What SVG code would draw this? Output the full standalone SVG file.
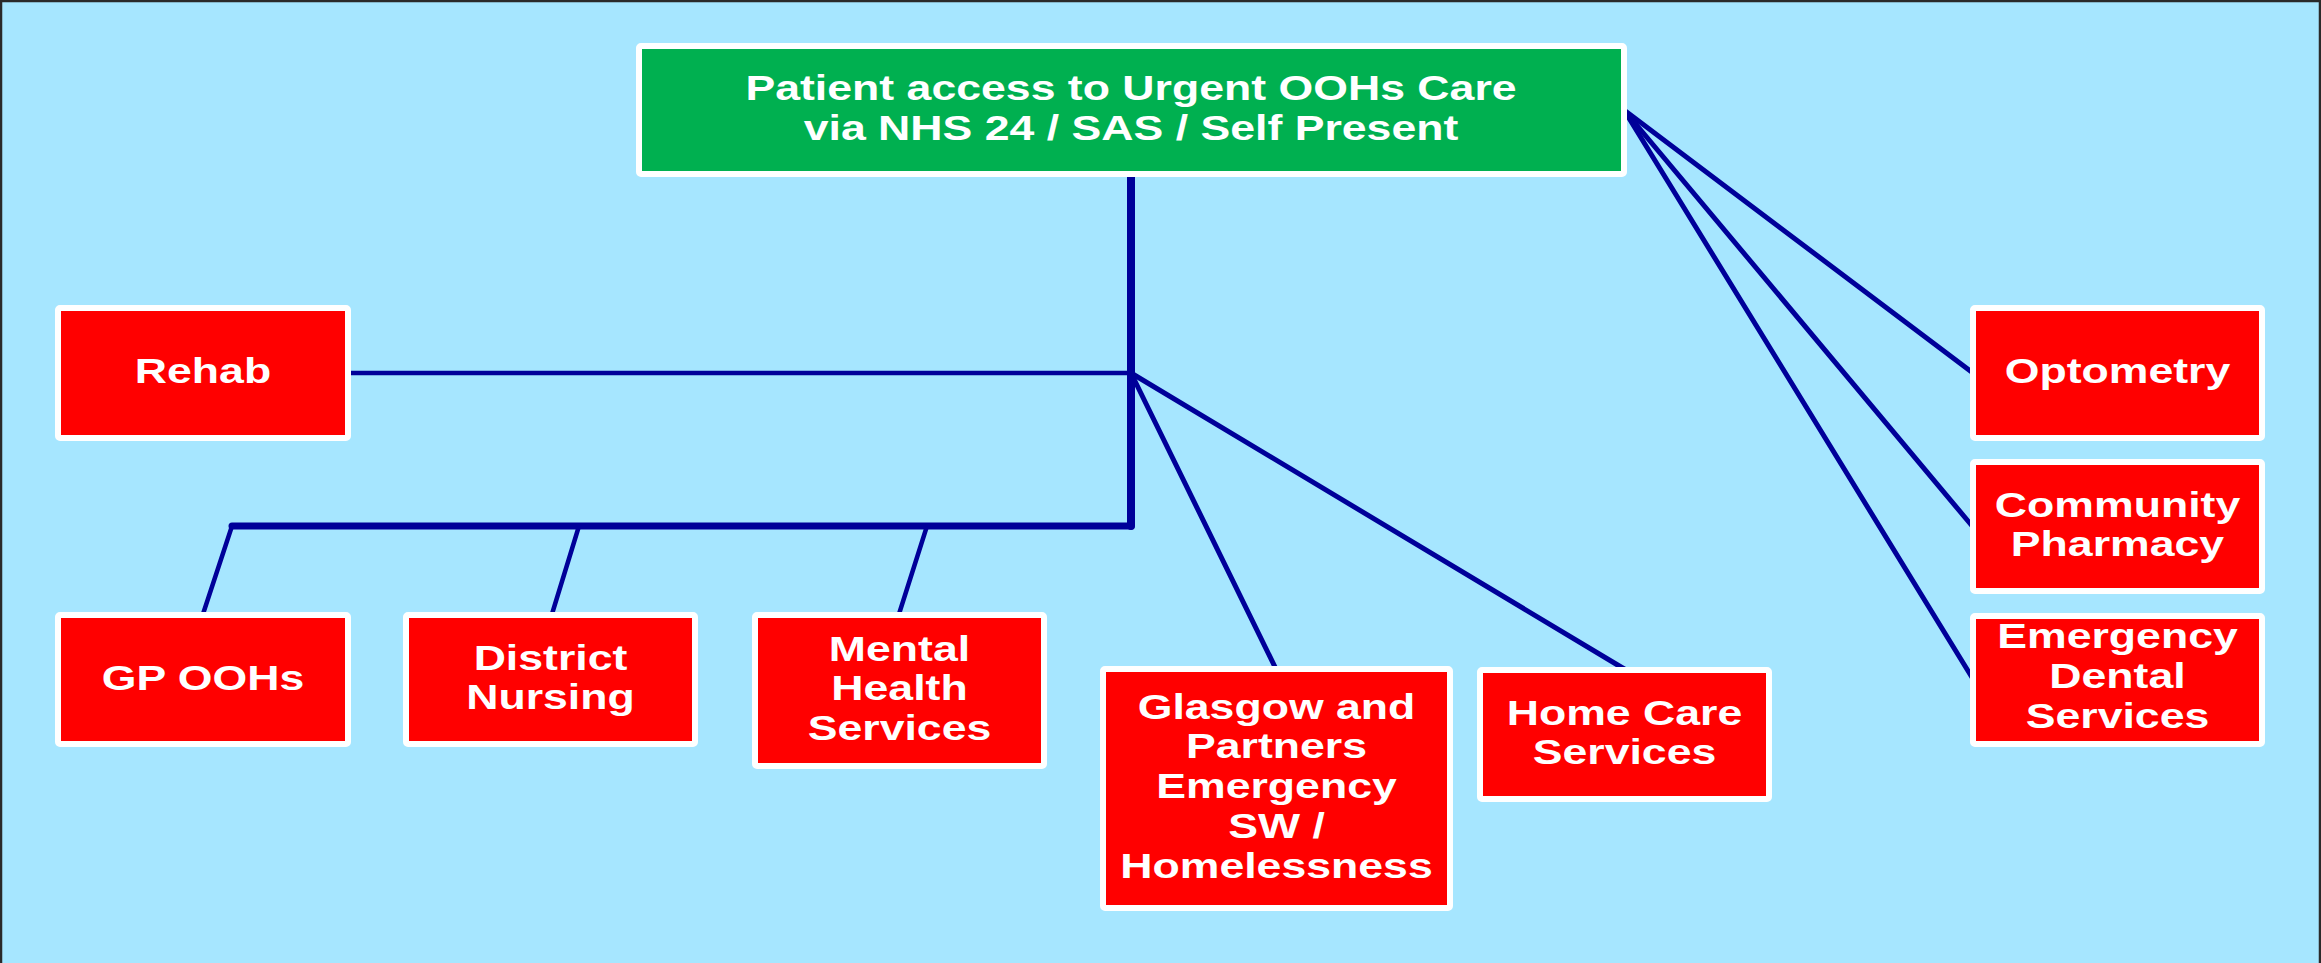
<svg xmlns="http://www.w3.org/2000/svg" width="2321" height="963" viewBox="0 0 2321 963">
<style>
.bg{fill:#A6E6FF}
.box{fill:#FF0000;stroke:#FFFFFF;stroke-width:6;stroke-linejoin:round}
.green{fill:#00B050;stroke:#FFFFFF;stroke-width:6;stroke-linejoin:round}
.lbl{font-family:"Liberation Sans",Arial,sans-serif;font-weight:bold;font-size:35px;fill:#FFFFFF;text-anchor:middle}
.ln{stroke:#000099;stroke-linecap:round;fill:none}
</style>
<rect class="bg" x="0" y="0" width="2321" height="963"/>
<path d="M1,963 V1 H2320 V963" fill="none" stroke="#2a2a2a" stroke-width="2.5"/>
<g id="connectors">
<line class="ln" x1="1131" y1="173" x2="1131" y2="526" stroke-width="8"/>
<line class="ln" x1="232" y1="526" x2="1131" y2="526" stroke-width="7"/>
<line class="ln" x1="351" y1="373" x2="1131" y2="373" stroke-width="4.5"/>
<line class="ln" x1="232" y1="526" x2="203" y2="614" stroke-width="4.5"/>
<line class="ln" x1="579" y1="526" x2="552" y2="614" stroke-width="4.5"/>
<line class="ln" x1="927" y1="526" x2="899" y2="614" stroke-width="4.5"/>
<line class="ln" x1="1131" y1="373" x2="1276" y2="669" stroke-width="5"/>
<line class="ln" x1="1131" y1="373" x2="1626" y2="670" stroke-width="5"/>
<line class="ln" x1="1624" y1="110" x2="1973" y2="373" stroke-width="5"/>
<line class="ln" x1="1624" y1="110" x2="1973" y2="527" stroke-width="5"/>
<line class="ln" x1="1624" y1="110" x2="1973" y2="679" stroke-width="5"/>
</g>
<g id="patient-access">
<rect class="green" x="639" y="46" width="985" height="128" rx="2"/>
<text class="lbl" transform="translate(1131,100) scale(1.275,1)"><tspan x="0" y="0">Patient access to Urgent OOHs Care</tspan><tspan x="0" dy="40">via NHS 24 / SAS / Self Present</tspan></text>
</g>
<g id="rehab">
<rect class="box" x="58" y="308" width="290" height="130" rx="2"/>
<text class="lbl" transform="translate(203,383) scale(1.275,1)"><tspan x="0" y="0">Rehab</tspan></text>
</g>
<g id="gp-oohs">
<rect class="box" x="58" y="615" width="290" height="129" rx="2"/>
<text class="lbl" transform="translate(203,689.5) scale(1.275,1)"><tspan x="0" y="0">GP OOHs</tspan></text>
</g>
<g id="district-nursing">
<rect class="box" x="406" y="615" width="289" height="129" rx="2"/>
<text class="lbl" transform="translate(550.5,669.5) scale(1.275,1)"><tspan x="0" y="0">District</tspan><tspan x="0" dy="40">Nursing</tspan></text>
</g>
<g id="mental-health">
<rect class="box" x="755" y="615" width="289" height="151" rx="2"/>
<text class="lbl" transform="translate(899.5,660.5) scale(1.275,1)"><tspan x="0" y="0">Mental</tspan><tspan x="0" dy="40">Health</tspan><tspan x="0" dy="40">Services</tspan></text>
</g>
<g id="glasgow-partners">
<rect class="box" x="1103" y="669" width="347" height="239" rx="2"/>
<text class="lbl" transform="translate(1276.5,718.5) scale(1.275,1)"><tspan x="0" y="0">Glasgow and</tspan><tspan x="0" dy="40">Partners</tspan><tspan x="0" dy="40">Emergency</tspan><tspan x="0" dy="40">SW /</tspan><tspan x="0" dy="40">Homelessness</tspan></text>
</g>
<g id="home-care">
<rect class="box" x="1480" y="670" width="289" height="129" rx="2"/>
<text class="lbl" transform="translate(1624.5,724.5) scale(1.275,1)"><tspan x="0" y="0">Home Care</tspan><tspan x="0" dy="40">Services</tspan></text>
</g>
<g id="optometry">
<rect class="box" x="1973" y="308" width="289" height="130" rx="2"/>
<text class="lbl" transform="translate(2117.5,383) scale(1.275,1)"><tspan x="0" y="0">Optometry</tspan></text>
</g>
<g id="community-pharmacy">
<rect class="box" x="1973" y="462" width="289" height="129" rx="2"/>
<text class="lbl" transform="translate(2117.5,516.5) scale(1.275,1)"><tspan x="0" y="0">Community</tspan><tspan x="0" dy="40">Pharmacy</tspan></text>
</g>
<g id="emergency-dental">
<rect class="box" x="1973" y="616" width="289" height="128" rx="2"/>
<text class="lbl" transform="translate(2117.5,648) scale(1.275,1)"><tspan x="0" y="0">Emergency</tspan><tspan x="0" dy="40">Dental</tspan><tspan x="0" dy="40">Services</tspan></text>
</g>
</svg>
